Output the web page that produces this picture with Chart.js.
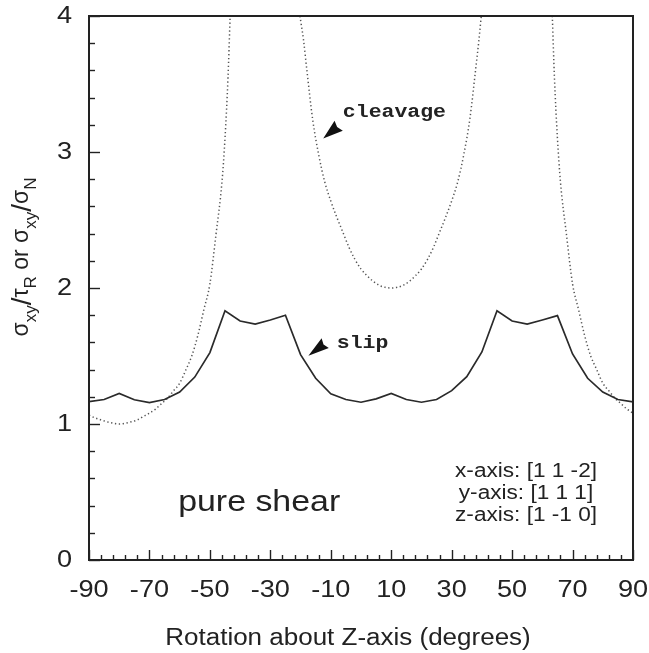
<!DOCTYPE html>
<html><head><meta charset="utf-8">
<script src="https://cdn.jsdelivr.net/npm/chart.js@4.4.0/dist/chart.umd.min.js"></script>
<style>html,body{margin:0;padding:0;background:#fff;}</style>
</head><body>
<canvas id="c" width="649" height="653" style="width:649px;height:653px;display:block"></canvas>
<script>
// ---- data ----
const slipAngles = [-90,-85,-80,-75,-70,-65,-60,-55,-50,-45,-40,-35,-30,-25,-20,-15,-10,-5,0,5,10,15,20,25,30,35,40,45,50,55,60,65,70,75,80,85,90];
const slipValues = [1.165,1.18,1.225,1.178,1.158,1.18,1.235,1.345,1.525,1.833,1.757,1.735,1.765,1.80,1.51,1.336,1.222,1.18,1.16,1.185,1.225,1.18,1.16,1.18,1.245,1.348,1.53,1.833,1.757,1.735,1.765,1.797,1.515,1.336,1.235,1.18,1.162];

const cleavageAngles = [-90,-88,-86,-84,-82,-80,-78,-76,-74,-72,-70,-68,-66,-64,-62,-60,-58,-56,-54,-52,-50,-48,-46,-45,-44,-43.3,
  -30,
  -20.2,-19,-18,-16,-14,-12,-10,-8,-6,-4,-2,0,2,4,6,8,10,12,14,16,18,20,22,24,26,28,30,32,34,36,38,39,39.8,
  52,
  63.3,64,65,66,68,70,72,74,76,78,80,82,84,86,88,90];
const cleavageValues = [1.065,1.045,1.03,1.016,1.006,1.0,1.006,1.016,1.03,1.055,1.08,1.11,1.15,1.19,1.245,1.30,1.395,1.50,1.65,1.84,2.03,2.39,2.78,3.10,3.55,4.0,
  null,
  4.0,3.82,3.62,3.24,2.98,2.78,2.64,2.52,2.41,2.30,2.21,2.14,2.09,2.05,2.02,2.005,2.0,2.005,2.02,2.05,2.09,2.14,2.21,2.30,2.41,2.52,2.64,2.78,2.98,3.24,3.62,3.82,4.0,
  null,
  4.0,3.55,3.1,2.78,2.39,2.03,1.84,1.65,1.50,1.40,1.30,1.245,1.19,1.15,1.11,1.08];

const xTickLabels = [-90,-70,-50,-30,-10,10,30,50,70,90];
const yTickLabels = [0,1,2,3,4];
const xMinorStep = 4;
const yMinorStep = 0.2;

// ---- rendering ----
const SX = 1.13; // horizontal stretch of the scanned lettering
const canvas = document.getElementById('c');
const ctx0 = canvas.getContext('2d');
const origFillText = CanvasRenderingContext2D.prototype.fillText;
ctx0.fillText = function(t, x, y) {
  this.save(); this.translate(x, y); this.scale(SX, 1); origFillText.call(this, t, 0, 0); this.restore();
};

const INK = '#222';
const FONT = '"Liberation Sans", Arial, Helvetica, sans-serif';
const MONO = '"Liberation Mono", "Courier New", monospace';

function arrowHead(ctx, tx, ty, dx, dy, len, half) {
  const L = Math.hypot(dx, dy); const ux = dx / L, uy = dy / L;
  const bx = tx + ux * len, by = ty + uy * len;
  ctx.beginPath();
  ctx.moveTo(tx, ty);
  ctx.lineTo(bx - uy * half, by + ux * half);
  ctx.lineTo(tx + ux * len * 0.9, ty + uy * len * 0.9);
  ctx.lineTo(bx + uy * half, by - ux * half);
  ctx.closePath();
  ctx.fill();
}

const decor = {
  id: 'decor',
  afterDraw(chart) {
    const { ctx, chartArea: a, scales: { x, y } } = chart;
    ctx.save();
    // frame
    ctx.strokeStyle = INK; ctx.lineWidth = 2;
    ctx.strokeRect(a.left, a.top, a.right - a.left, a.bottom - a.top);
    // inward ticks
    ctx.lineWidth = 1.4;
    for (let v = x.min; v <= x.max + 1e-9; v += xMinorStep) {
      const px = Math.round(x.getPixelForValue(v)) + 0.5;
      const major = xTickLabels.includes(Math.round(v));
      ctx.beginPath(); ctx.moveTo(px, a.bottom); ctx.lineTo(px, a.bottom - (major ? 10 : 5)); ctx.stroke();
    }
    for (let i = 0; i <= Math.round((y.max - y.min) / yMinorStep); i++) {
      const v = y.min + i * yMinorStep;
      const py = Math.round(y.getPixelForValue(v)) + 0.5;
      const major = Math.abs(v - Math.round(v)) < 1e-6;
      ctx.beginPath(); ctx.moveTo(a.left, py); ctx.lineTo(a.left + (major ? 11 : 6), py); ctx.stroke();
    }
    // annotations
    ctx.fillStyle = INK;
    ctx.textBaseline = 'alphabetic';
    ctx.font = 'bold 19px ' + MONO; ctx.textAlign = 'left';
    ctx.fillText('cleavage', x.getPixelForValue(-6.0), y.getPixelForValue(3.257));
    ctx.fillText('slip', x.getPixelForValue(-8.0), y.getPixelForValue(1.557));
    ctx.fillStyle = '#111';
    arrowHead(ctx, x.getPixelForValue(-12.5), y.getPixelForValue(3.10), 14, -11.5, 20, 6.5);
    arrowHead(ctx, x.getPixelForValue(-17.4), y.getPixelForValue(1.502), 16, -12, 21, 6);
    ctx.fillStyle = INK;

    ctx.font = '30px ' + FONT; ctx.textAlign = 'left';
    ctx.fillText('pure shear', x.getPixelForValue(-60.5), y.getPixelForValue(0.36));

    ctx.font = '20px ' + FONT; ctx.textAlign = 'center';
    const cx = x.getPixelForValue(54.6);
    ctx.fillText('x-axis: [1 1 -2]', cx, y.getPixelForValue(0.61));
    ctx.fillText('y-axis: [1 1 1]', cx, y.getPixelForValue(0.45));
    ctx.fillText('z-axis: [1 -1 0]', cx, y.getPixelForValue(0.287));

    // x title
    ctx.font = '23px ' + FONT; ctx.textAlign = 'center';
    ctx.fillText('Rotation about Z-axis (degrees)', x.getPixelForValue(-4.3), 645);

    // y title (rotated, with subscripts)
    const segs = [['σ','m'],['xy','s'],['/','b'],['τ','m'],['R','s'],[' or ','m'],['σ','m'],['xy','s'],['/','b'],['σ','m'],['N','s']];
    const fonts = { m: '23px ' + FONT, s: '17px ' + FONT, b: '28px ' + FONT };
    const shift = { m: 0, s: 8, b: 3 };
    let total = 0;
    const widths = segs.map(([t, k]) => { ctx.font = fonts[k]; const w = ctx.measureText(t).width; total += w; return w; });
    ctx.translate(28, 257);
    ctx.rotate(-Math.PI / 2);
    ctx.textAlign = 'left';
    let pos = -total / 2;
    segs.forEach(([t, k], i) => {
      ctx.font = fonts[k];
      origFillText.call(ctx, t, pos, shift[k]);
      pos += widths[i];
    });
    ctx.restore();
  }
};

const chart = new Chart(ctx0, {
  type: 'line',
  data: {
    datasets: [
      {
        label: 'slip',
        data: slipAngles.map((a, i) => ({ x: a, y: slipValues[i] })),
        borderColor: '#2a2a2a', borderWidth: 1.7, pointRadius: 0, tension: 0, fill: false
      },
      {
        label: 'cleavage',
        data: cleavageAngles.map((a, i) => ({ x: a, y: cleavageValues[i] })),
        borderColor: '#555', borderWidth: 1.5, borderDash: [1.3, 2.6], borderCapStyle: 'butt',
        pointRadius: 0, tension: 0.35, cubicInterpolationMode: 'monotone', spanGaps: false, fill: false
      }
    ]
  },
  options: {
    responsive: false, animation: false, devicePixelRatio: 1,
    layout: { padding: { top: 16, right: 16, left: 0, bottom: 0 } },
    plugins: { legend: { display: false }, tooltip: { enabled: false } },
    scales: {
      x: {
        type: 'linear', min: -90, max: 90,
        afterBuildTicks: s => { s.ticks = xTickLabels.map(v => ({ value: v })); },
        afterFit: s => { s.height = 93; s.paddingLeft = 0; s.paddingRight = 0; },
        grid: { display: false, drawTicks: false }, border: { display: false },
        ticks: { color: INK, font: { family: FONT, size: 24 }, padding: 16, maxRotation: 0, autoSkip: false }
      },
      y: {
        type: 'linear', min: 0, max: 4,
        afterBuildTicks: s => { s.ticks = yTickLabels.map(v => ({ value: v })); },
        afterFit: s => { s.width = 89; s.paddingTop = 0; s.paddingBottom = 0; },
        grid: { display: false, drawTicks: false }, border: { display: false },
        ticks: { color: INK, font: { family: FONT, size: 24 }, padding: 17 }
      }
    }
  },
  plugins: [decor]
});
</script>
</body></html>
